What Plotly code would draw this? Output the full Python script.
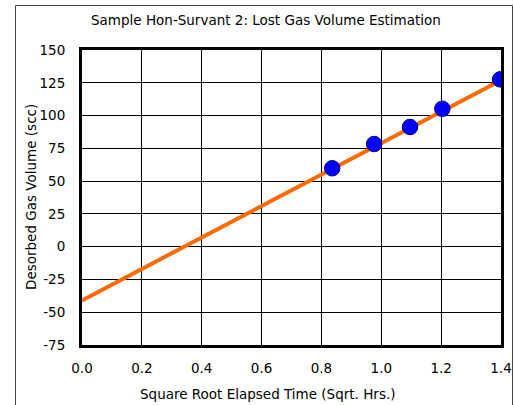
import plotly.graph_objects as go

# Measured desorption points (sqrt hours, scc)
sqrt_time = [0.836, 0.976, 1.096, 1.204, 1.397]
gas_volume = [59.8, 78.3, 91.3, 105.2, 127.6]

# Regression line extrapolated back to time zero
fit_x = [0.0, 1.4]
fit_y = [-41.0, 127.0]

x_ticks = [0.0, 0.2, 0.4, 0.6, 0.8, 1.0, 1.2, 1.4]
y_ticks = [-75, -50, -25, 0, 25, 50, 75, 100, 125, 150]

W, H = 514, 405
L, R, T, B = 82, 13, 50, 60
pw, ph = W - L - R, H - T - B

font = "DejaVu Sans"
fsize = 13.5

fig = go.Figure()
fig.add_trace(go.Scatter(
    x=fit_x, y=fit_y, mode="lines",
    line=dict(color="#FF6A00", width=4),
    hoverinfo="skip", showlegend=False,
))
fig.add_trace(go.Scatter(
    x=sqrt_time, y=gas_volume, mode="markers",
    marker=dict(color="#0000FF", size=15.5, line=dict(color="#000080", width=1)),
    showlegend=False,
))


def px_to_paper_x(px):
    return (px - L) / pw


def px_to_paper_y(py):
    return (H - B - py) / ph


# Outer chart frame
fig.add_shape(
    type="rect", xref="paper", yref="paper",
    x0=px_to_paper_x(15.5), x1=px_to_paper_x(512.5),
    y0=px_to_paper_y(420), y1=px_to_paper_y(5.5),
    line=dict(color="#444444", width=1), layer="below",
)

# Chart and axis titles
fig.add_annotation(
    text="Sample Hon-Survant 2: Lost Gas Volume Estimation",
    xref="paper", yref="paper", showarrow=False,
    x=px_to_paper_x(266), y=px_to_paper_y(20), xanchor="center", yanchor="middle",
    font=dict(family=font, size=fsize, color="black"),
)
fig.add_annotation(
    text="Square Root Elapsed Time (Sqrt. Hrs.)",
    xref="paper", yref="paper", showarrow=False,
    x=px_to_paper_x(267), y=px_to_paper_y(394), xanchor="center", yanchor="middle",
    font=dict(family=font, size=fsize, color="black"),
)
fig.add_annotation(
    text="Desorbed Gas Volume (scc)",
    xref="paper", yref="paper", showarrow=False, textangle=-90,
    x=px_to_paper_x(31), y=px_to_paper_y(197), xanchor="center", yanchor="middle",
    font=dict(family=font, size=fsize, color="black"),
)

fig.update_layout(
    width=W, height=H,
    margin=dict(l=L, r=R, t=T, b=B, autoexpand=False),
    paper_bgcolor="white", plot_bgcolor="white",
    xaxis=dict(
        range=[0, 1.4], tickvals=x_ticks,
        ticktext=[f"{v:.1f}" for v in x_ticks],
        showgrid=True, gridcolor="black", gridwidth=1,
        showline=True, linecolor="black", linewidth=3, mirror=True,
        zeroline=False, ticks="", automargin=False, ticklabelstandoff=9,
        tickfont=dict(family=font, size=fsize, color="black"),
    ),
    yaxis=dict(
        range=[-75, 150], tickvals=y_ticks,
        ticktext=[str(v) for v in y_ticks],
        showgrid=True, gridcolor="black", gridwidth=1,
        showline=True, linecolor="black", linewidth=3, mirror=True,
        zeroline=False, ticks="", automargin=False, ticklabelstandoff=11,
        tickfont=dict(family=font, size=fsize, color="black"),
    ),
)

fig.write_html("out.html")
